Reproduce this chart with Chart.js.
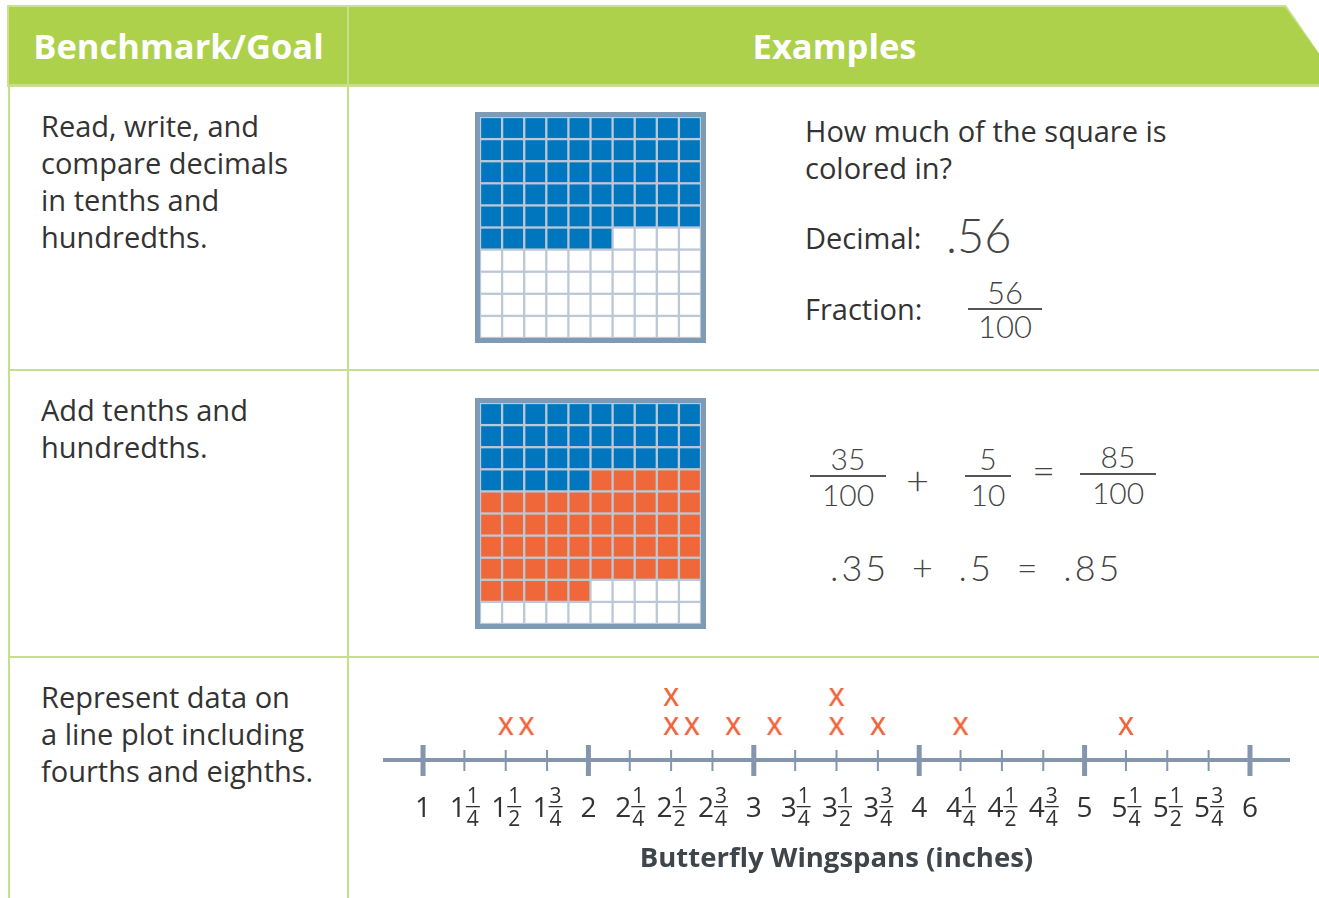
<!DOCTYPE html>
<html>
<head>
<meta charset="utf-8">
<script src="https://cdn.jsdelivr.net/npm/chart.js@4.4.0/dist/chart.umd.min.js"></script>
<style>
  body { margin: 0; width: 1319px; height: 898px; background: #fff; position: relative; overflow: hidden;
         font-family: "Open Sans", sans-serif; color: #333; }
  .abs { position: absolute; }
  .line { position: absolute; background: #c6df8c; }
  .head-txt { position: absolute; top: 7px; height: 77px; line-height: 77px; color: #fff; font-weight: 700;
              font-size: 34.5px; text-align: center; }
  .txt { position: absolute; font-size: 29px; line-height: 37px; color: #333; white-space: nowrap; }
  .hw { position: absolute; font-family: Lato, sans-serif; font-weight: 300; color: #444; white-space: nowrap; }
  .frac { text-align: center; }
  .frac .bar { height: 1.5px; background: #555; margin: 1px 0; }
  .grid-box { position: absolute; border: 5px solid #7d9bb5; background: #bcc8d6; width: 221px; height: 221px; }
  .grid-box canvas { display: block; }
</style>
</head>
<body>
<!-- header -->
<div class="abs" style="left:7px;top:5px;width:1312px;height:82px;background:#c9e290;
     clip-path:polygon(0 0,1279px 0,1312px 48px,1312px 82px,0 82px);"></div>
<div class="abs" style="left:9px;top:7px;width:1310px;height:77px;background:#add14a;
     clip-path:polygon(0 0,1276px 0,1310px 47px,1310px 77px,0 77px);"></div>
<div class="head-txt" style="left:9px;width:339px;">Benchmark/Goal</div>
<div class="head-txt" style="left:350px;width:969px;">Examples</div>

<!-- table lines -->
<div class="line" style="left:8px;top:84px;width:1311px;height:2px;"></div>
<div class="line" style="left:8px;top:369px;width:1311px;height:2px;"></div>
<div class="line" style="left:8px;top:656px;width:1311px;height:2px;"></div>
<div class="line" style="left:8px;top:84px;width:2px;height:814px;"></div>
<div class="line" style="left:347px;top:7px;width:2px;height:891px;"></div>

<!-- row 1 -->
<div class="txt" style="left:41px;top:107px;">Read, write, and<br>compare decimals<br>in tenths and<br>hundredths.</div>
<div class="grid-box" style="left:475px;top:112px;"><canvas id="grid1" width="221" height="221"></canvas></div>
<div class="txt" style="left:805px;top:112px;">How much of the square is<br>colored in?</div>
<div class="txt" style="left:805px;top:219px;">Decimal:</div>
<div class="hw" style="left:946px;top:208px;font-size:47px;line-height:54px;">.56</div>
<div class="txt" style="left:805px;top:290px;">Fraction:</div>
<div class="hw frac" style="left:968px;top:277px;width:74px;font-size:31px;line-height:30px;">
  <div>56</div><div class="bar"></div><div>100</div></div>

<!-- row 2 -->
<div class="txt" style="left:41px;top:391px;">Add tenths and<br>hundredths.</div>
<div class="grid-box" style="left:475px;top:398px;"><canvas id="grid2" width="221" height="221"></canvas></div>
<div class="hw frac" style="left:810px;top:442px;width:76px;font-size:30px;line-height:32px;">
  <div>35</div><div class="bar"></div><div>100</div></div>
<div class="hw" style="left:906px;top:458px;font-size:40px;line-height:44px;">+</div>
<div class="hw frac" style="left:965px;top:442px;width:46px;font-size:30px;line-height:32px;">
  <div>5</div><div class="bar"></div><div>10</div></div>
<div class="hw" style="left:1032px;top:448px;font-size:40px;line-height:44px;">=</div>
<div class="hw frac" style="left:1080px;top:440px;width:76px;font-size:30px;line-height:32px;">
  <div>85</div><div class="bar"></div><div>100</div></div>
<div class="hw" style="left:830px;top:545px;font-size:36px;line-height:44px;letter-spacing:3px;word-spacing:10px;">.35 + .5 = .85</div>

<!-- row 3 -->
<div class="txt" style="left:41px;top:678px;">Represent data on<br>a line plot including<br>fourths and eighths.</div>
<canvas id="plot" class="abs" style="left:383px;top:665px;" width="907" height="211"></canvas>

<script>
// grid squares: how many of the 100 cells are coloured, in order
const grid1Counts = [56];
const grid1Colors = ["#0076be"];
const grid2Counts = [35, 50];
const grid2Colors = ["#0076be", "#f0683a"];

// line plot
const wingspans = [1.5, 1.625, 2.5, 2.5, 2.625, 2.875, 3.125, 3.5, 3.5, 3.75, 4.25, 5.25];
const tickValues = [1, 1.25, 1.5, 1.75, 2, 2.25, 2.5, 2.75, 3, 3.25, 3.5, 3.75,
                    4, 4.25, 4.5, 4.75, 5, 5.25, 5.5, 5.75, 6];
const tickLabels = ["1", "1 1/4", "1 1/2", "1 3/4", "2", "2 1/4", "2 1/2", "2 3/4",
                    "3", "3 1/4", "3 1/2", "3 3/4", "4", "4 1/4", "4 1/2", "4 3/4",
                    "5", "5 1/4", "5 1/2", "5 3/4", "6"];
const axisTitle = "Butterfly Wingspans (inches)";

// cells of a 10x10 grid, coloured in reading order
function gridCells(counts, colors) {
  const pts = [], cols = [];
  let filled = 0;
  const bounds = counts.map(c => (filled += c));
  for (let i = 0; i < 100; i++) {
    pts.push({ x: (i % 10) + 0.5, y: Math.floor(i / 10) + 0.5 });
    const k = bounds.findIndex(b => i < b);
    cols.push(k === -1 ? "#ffffff" : colors[k]);
  }
  return { pts, cols };
}

function drawGrid(id, counts, colors) {
  const cells = gridCells(counts, colors);
  new Chart(document.getElementById(id), {
    type: "scatter",
    data: {
      datasets: [{
        data: cells.pts,
        pointStyle: "rect",
        pointRadius: 14,
        pointHoverRadius: 14,
        pointBorderWidth: 0,
        pointBackgroundColor: cells.cols,
        clip: false,
      }],
    },
    options: {
      responsive: false,
      animation: false,
      events: [],
      layout: { padding: 0, autoPadding: false },
      plugins: { legend: { display: false }, tooltip: { enabled: false } },
      scales: {
        x: { display: false, min: 0, max: 10 },
        y: { display: false, min: 0, max: 10, reverse: true },
      },
    },
  });
}

drawGrid("grid1", grid1Counts, grid1Colors);
drawGrid("grid2", grid2Counts, grid2Colors);

// "X" marker for the line plot
const xMark = document.createElement("canvas");
xMark.width = 30;
xMark.height = 30;
{
  const c = xMark.getContext("2d");
  c.fillStyle = "#f0643c";
  c.font = '600 25px "Open Sans"';
  c.textAlign = "center";
  c.textBaseline = "alphabetic";
  c.fillText("X", 15, 24);
}

// stack repeated values
const seen = {};
const plotPoints = wingspans.map(v => {
  seen[v] = (seen[v] || 0) + 1;
  return { x: v, y: seen[v] };
});

// number line, ticks and mixed-number labels
const numberLine = {
  id: "numberLine",
  beforeDatasetsDraw(chart) {
    const { ctx, chartArea, scales: { x } } = chart;
    const y0 = chartArea.bottom;
    ctx.save();
    ctx.strokeStyle = "#8396ac";
    ctx.lineWidth = 4;
    ctx.beginPath();
    ctx.moveTo(chartArea.left, y0);
    ctx.lineTo(chartArea.right, y0);
    ctx.stroke();

    ctx.fillStyle = "#333";
    ctx.textBaseline = "alphabetic";
    tickValues.forEach((v, i) => {
      const px = x.getPixelForValue(v);
      const major = Number.isInteger(v);
      ctx.lineWidth = major ? 5 : 2;
      ctx.beginPath();
      ctx.moveTo(px, y0 - (major ? 15 : 10));
      ctx.lineTo(px, y0 + (major ? 16 : 11));
      ctx.stroke();

      const [whole, frac] = tickLabels[i].split(" ");
      ctx.font = '28px "Open Sans"';
      const wW = ctx.measureText(whole).width;
      if (!frac) {
        ctx.textAlign = "center";
        ctx.fillText(whole, px, y0 + 57);
        return;
      }
      const [num, den] = frac.split("/");
      ctx.font = '21px "Open Sans"';
      const fW = Math.max(ctx.measureText(num).width, ctx.measureText(den).width);
      const start = px - (wW + 1 + fW) / 2;
      ctx.textAlign = "left";
      ctx.font = '28px "Open Sans"';
      ctx.fillText(whole, start, y0 + 57);
      const fc = start + wW + 1 + fW / 2;
      ctx.font = '21px "Open Sans"';
      ctx.textAlign = "center";
      ctx.fillText(num, fc, y0 + 43);
      ctx.fillText(den, fc, y0 + 66);
      ctx.fillRect(fc - fW / 2 - 1, y0 + 46, fW + 2, 1.3);
    });
    ctx.restore();
  },
};

new Chart(document.getElementById("plot"), {
  type: "scatter",
  data: {
    datasets: [{
      data: plotPoints,
      pointStyle: xMark,
      pointRadius: 12,
      clip: false,
    }],
  },
  options: {
    responsive: false,
    animation: false,
    events: [],
    layout: { padding: 0, autoPadding: false },
    plugins: {
      legend: { display: false },
      tooltip: { enabled: false },
      title: {
        display: true,
        position: "bottom",
        text: axisTitle,
        color: "#3e454b",
        font: { family: "Open Sans", size: 27.5, weight: "bold", lineHeight: 1.2 },
        padding: { top: 83, bottom: 0 },
      },
    },
    scales: {
      x: { display: false, min: 0.758, max: 6.242 },
      y: { display: false, min: -0.17, max: 3.1 },
    },
  },
  plugins: [numberLine],
});
</script>
</body>
</html>
